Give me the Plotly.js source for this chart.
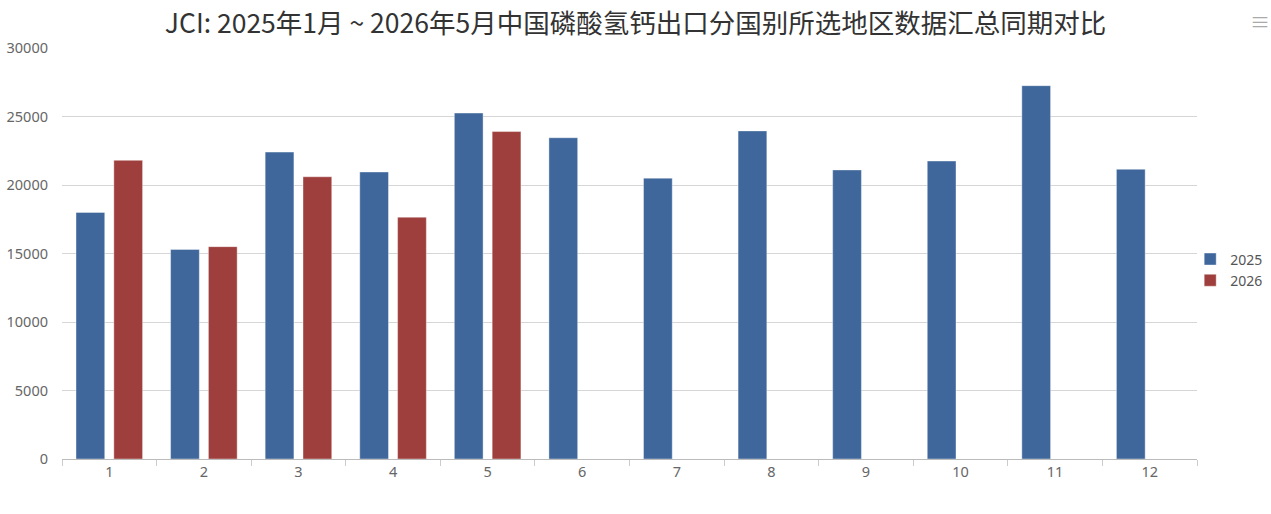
<!DOCTYPE html>
<html>
<head>
<meta charset="utf-8">
<script src="https://cdn.plot.ly/plotly-3.0.1.min.js"></script>
<style>html,body{margin:0;padding:0;background:#fff;}#chart{width:1271px;height:514px;}</style>
</head>
<body>
<div id="chart"></div>
<script>
const months = ['1','2','3','4','5','6','7','8','9','10','11','12'];
const values2025 = [18000, 15300, 22400, 20950, 25250, 23450, 20500, 23950, 21100, 21750, 27250, 21150];
const values2026 = [21800, 15500, 20600, 17650, 23900, null, null, null, null, null, null, null];
const seriesNames = ['2025', '2026'];
const yTicks = [0, 5000, 10000, 15000, 20000, 25000, 30000];

const traces = [
  {type:'bar', name:seriesNames[0], x:months, y:values2025,
   marker:{color:'#3f679b', line:{color:'rgba(255,255,255,0.5)', width:0.8}}, hoverinfo:'x+y+name'},
  {type:'bar', name:seriesNames[1], x:months, y:values2026,
   marker:{color:'#9e3f3d', line:{color:'rgba(255,255,255,0.5)', width:0.8}}, hoverinfo:'x+y+name'}
];

const layout = {
  width:1271, height:514,
  margin:{l:62, r:74, t:48, b:55, autoexpand:false},
  paper_bgcolor:'#fff', plot_bgcolor:'#fff',
  font:{family:'"Noto Sans", "Noto Sans CJK SC", sans-serif', color:'#666', size:14},
  title:{text:'JCI: 2025年1月 ~ 2026年5月中国磷酸氢钙出口分国别所选地区数据汇总同期对比',
         font:{family:'"Noto Sans CJK SC", "Noto Sans", sans-serif', size:26.5, color:'#333'},
         x:0.5, xref:'container', y:0.953, yanchor:'middle'},
  barmode:'group', bargap:0.2, bargroupgap:0.24,
  xaxis:{type:'category', tickson:'boundaries', ticks:'outside', ticklen:6, tickcolor:'#ccc',
         showline:true, linecolor:'#bbb', linewidth:1, showgrid:false, zeroline:false,
         tickfont:{size:14.5, color:'#666'}, fixedrange:true},
  yaxis:{range:[0,30000], tickvals:yTicks, ticktext:yTicks.map(String), showgrid:true, gridcolor:'#d6d6d6',
         gridwidth:1, zeroline:false, showline:false, ticks:'', ticklabelstandoff:13,
         tickfont:{size:14.5, color:'#666'}, fixedrange:true},
  legend:{x:0.994, xanchor:'left', y:0.46, yanchor:'middle', font:{size:14, color:'#555'},
          bgcolor:'rgba(0,0,0,0)', itemwidth:30},
  showlegend:true,
  annotations:[
    {text:'≡', xref:'paper', yref:'paper', x:1.045, y:1.1, xanchor:'left', showarrow:false,
     font:{size:20, color:'#aaa'}}
  ]
};

Plotly.newPlot('chart', traces, layout, {displayModeBar:false, responsive:false});
</script>
</body>
</html>
